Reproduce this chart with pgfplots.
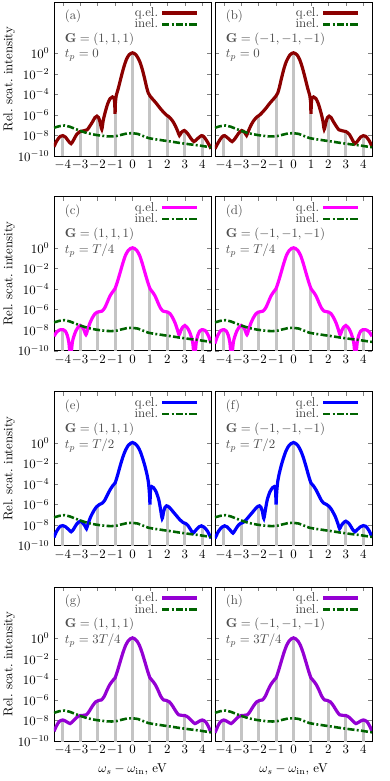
\documentclass[border=0pt]{standalone}
\usepackage{pgfplots}
\usepackage{pgfplotstable}
\pgfplotsset{compat=1.18}
\definecolor{qa}{HTML}{8B0000}
\definecolor{qc}{HTML}{FF00FF}
\definecolor{qe}{HTML}{0000FF}
\definecolor{qg}{HTML}{9400D3}
\definecolor{inelc}{HTML}{006400}
\definecolor{barc}{HTML}{C4C4C4}

% log10 of the relative scattering intensity
\pgfplotstableread{
x y
-4.5 -9.1
-4.35 -8.55
-4.15 -8.1
-4.0 -8.02
-3.85 -8.15
-3.67 -8.55
-3.52 -8.8
-3.38 -8.45
-3.2 -7.9
-3.0 -7.62
-2.8 -7.55
-2.6 -7.45
-2.45 -7.1
-2.3 -6.7
-2.15 -6.25
-2.04 -6.12
-1.95 -6.25
-1.86 -6.7
-1.76 -7.4
-1.68 -6.55
-1.56 -5.7
-1.42 -4.9
-1.28 -4.4
-1.15 -4.25
-1.06 -4.35
-1.02 -4.9
-1.0 -5.9
-0.98 -4.8
-0.93 -4.1
-0.82 -3.45
-0.65 -2.3
-0.5 -1.35
-0.35 -0.6
-0.2 -0.15
0 0.05
0.2 -0.15
0.4 -0.75
0.55 -1.5
0.7 -2.5
0.8 -3.25
0.9 -3.85
1.0 -4.15
1.12 -4.4
1.25 -4.65
1.4 -4.95
1.58 -5.35
1.76 -5.7
1.93 -6.0
2.1 -6.2
2.3 -6.6
2.45 -7.05
2.58 -7.55
2.69 -8.0
2.8 -7.7
2.97 -7.52
3.15 -7.8
3.35 -8.3
3.52 -8.6
3.7 -8.35
3.95 -8.02
4.1 -8.15
4.3 -8.65
4.5 -9.3
}\tabA

\pgfplotstableread{
x y
-4.5 -8.6
-4.35 -8.2
-4.17 -7.98
-3.97 -7.96
-3.85 -8.1
-3.74 -8.5
-3.65 -9.2
-3.58 -10.5
-3.55 -11.5
-3.52 -10.5
-3.45 -9.2
-3.36 -8.6
-3.25 -8.1
-3.12 -7.72
-3.0 -7.55
-2.88 -7.7
-2.78 -8.0
-2.67 -8.45
-2.57 -7.95
-2.45 -7.35
-2.3 -6.8
-2.15 -6.4
-2.02 -6.25
-1.88 -6.2
-1.75 -6.15
-1.6 -5.85
-1.45 -5.3
-1.3 -4.7
-1.15 -4.3
-1.0 -3.95
-0.85 -3.2
-0.72 -2.45
-0.55 -1.45
-0.4 -0.7
-0.25 -0.25
-0.12 -0.05
0 0.02
0.12 -0.05
0.25 -0.25
0.4 -0.7
0.55 -1.45
0.72 -2.45
0.85 -3.2
1.0 -3.95
1.15 -4.3
1.3 -4.7
1.45 -5.3
1.6 -5.85
1.75 -6.15
1.88 -6.2
2.02 -6.25
2.15 -6.4
2.3 -6.8
2.45 -7.35
2.57 -7.95
2.67 -8.45
2.78 -8.0
2.88 -7.7
3.0 -7.55
3.12 -7.72
3.25 -8.1
3.36 -8.6
3.45 -9.2
3.52 -10.5
3.55 -11.5
3.58 -10.5
3.65 -9.2
3.74 -8.5
3.85 -8.1
3.97 -7.96
4.17 -8.05
4.35 -8.55
4.5 -9.3
}\tabC

\pgfplotstableread{
x y
-4.5 -9.2
-4.35 -8.6
-4.15 -8.12
-4.0 -8.05
-3.85 -8.15
-3.65 -8.45
-3.52 -8.65
-3.38 -8.4
-3.2 -7.9
-3.0 -7.62
-2.85 -7.8
-2.72 -8.1
-2.64 -8.35
-2.55 -7.9
-2.4 -7.2
-2.2 -6.55
-2.05 -6.2
-1.9 -6.0
-1.75 -5.88
-1.6 -5.6
-1.45 -5.1
-1.3 -4.6
-1.15 -4.2
-1.0 -3.9
-0.85 -3.1
-0.72 -2.3
-0.55 -1.35
-0.4 -0.7
-0.25 -0.25
-0.12 -0.04
0 0.05
0.15 -0.07
0.3 -0.35
0.45 -0.85
0.6 -1.6
0.72 -2.3
0.82 -3.0
0.9 -3.7
0.95 -4.5
0.985 -5.4
1.0 -6.0
1.02 -4.9
1.05 -4.35
1.1 -4.25
1.2 -4.35
1.35 -4.75
1.5 -5.5
1.6 -6.4
1.7 -7.35
1.78 -6.7
1.87 -6.25
1.95 -6.12
2.1 -6.25
2.3 -6.65
2.5 -7.05
2.7 -7.45
2.9 -7.75
3.05 -7.85
3.2 -8.1
3.35 -8.5
3.47 -8.78
3.6 -8.55
3.8 -8.18
3.95 -8.07
4.1 -8.2
4.3 -8.6
4.5 -9.3
}\tabE

\pgfplotstableread{
x y
-4.5 -9.05
-4.35 -8.5
-4.2 -8.1
-4.0 -7.95
-3.8 -8.1
-3.58 -8.3
-3.4 -8.05
-3.2 -7.7
-3.0 -7.52
-2.82 -7.5
-2.65 -7.45
-2.5 -7.15
-2.3 -6.6
-2.12 -6.2
-1.95 -6.05
-1.78 -6.0
-1.62 -5.65
-1.45 -5.0
-1.3 -4.5
-1.15 -4.15
-1.0 -3.85
-0.85 -3.1
-0.72 -2.35
-0.55 -1.4
-0.4 -0.7
-0.25 -0.25
-0.12 -0.04
0 0.05
0.12 -0.04
0.25 -0.25
0.4 -0.7
0.55 -1.4
0.72 -2.35
0.85 -3.1
1.0 -3.85
1.15 -4.15
1.3 -4.5
1.45 -5.0
1.62 -5.65
1.78 -6.0
1.95 -6.05
2.12 -6.2
2.3 -6.6
2.5 -7.15
2.65 -7.45
2.82 -7.5
3.0 -7.52
3.2 -7.7
3.4 -8.05
3.58 -8.3
3.8 -8.1
4.0 -7.95
4.2 -8.15
4.35 -8.6
4.5 -9.2
}\tabG

\pgfplotstableread{
x y
-4.5 -7.25
-4.2 -7.1
-3.9 -7.03
-3.6 -7.15
-3.3 -7.35
-3.0 -7.55
-2.7 -7.72
-2.4 -7.85
-2.1 -7.95
-1.8 -8.02
-1.5 -8.08
-1.2 -8.1
-0.9 -8.05
-0.6 -7.92
-0.3 -7.8
0.0 -7.78
0.3 -7.85
0.6 -8.05
0.9 -8.25
1.2 -8.35
1.5 -8.42
1.8 -8.5
2.1 -8.57
2.4 -8.65
2.7 -8.73
3.0 -8.8
3.3 -8.87
3.6 -8.93
3.9 -9.0
4.2 -9.08
4.5 -9.15
}\tabI

\newcommand{\bars}[9]{\addplot[bars] coordinates {(-4,-11) (-4,#1) (-4,nan)
 (-3,-11) (-3,#2) (-3,nan) (-2,-11) (-2,#3) (-2,nan) (-1,-11) (-1,#4) (-1,nan)
 (0,-11) (0,#5) (0,nan) (1,-11) (1,#6) (1,nan) (2,-11) (2,#7) (2,nan)
 (3,-11) (3,#8) (3,nan) (4,-11) (4,#9)};}

\pgfplotsset{
 panel/.style={
  scale only axis, width=122.5pt, height=120.1pt, anchor=north west,
  xmin=-4.5, xmax=4.5, ymin=-10, ymax=5,
  xtick={-4,-3,...,4}, ytick={-10,-8,-6,-4,-2,0},
  yticklabels={$10^{-10}$,$10^{-8}$,$10^{-6}$,$10^{-4}$,$10^{-2}$,$10^{0}$},
  major tick length=3pt,
  unbounded coords=jump,
  legend plot pos=right,
  legend cell align=right,
  legend style={draw=none, fill=none, at={(rel axis cs:0.93,0.99)}, anchor=north east,
     text=black!75, row sep=-3.5pt, inner sep=1pt},
  legend image code/.code={\draw[##1] (0pt,0pt) -- (27pt,0pt);},
  every axis y label/.style={at={(rel axis cs:-0.22,0.5)}, rotate=90, anchor=south},
 },
 left/.style={ylabel={Rel.\ scat.\ intensity}},
 right/.style={yticklabels={}},
 bottom/.style={xlabel={$\omega_s-\omega_{\mathrm{in}}$, eV}},
 qel/.style={line width=2.5pt, smooth, tension=0.45},
 inel/.style={inelc, line width=2pt, dash pattern=on 5.5pt off 1.8pt on 1.5pt off 1.8pt},
 bars/.style={barc, line width=2.3pt, forget plot},
}
\newcommand{\annot}[3]{%
 \node[anchor=west, text=black!70] at (rel axis cs:0.04,0.905) {#1};
 \node[anchor=west, text=black!70] at (rel axis cs:0.04,0.755) {$\mathbf{G}=#2$};
 \node[anchor=west, text=black!70] at (rel axis cs:0.04,0.652) {$t_p=#3$};}

\begin{document}
\begin{tikzpicture}
\path[use as bounding box] (0pt,0pt) rectangle (304.2pt,-609.2pt);
% row 1
\begin{axis}[panel, left, at={(42.12pt,-1.56pt)}]
\bars{-8.05}{-7.62}{-6.15}{-5.9}{0.05}{-4.15}{-6.05}{-7.55}{-8.1}
\addplot[qel, qa] table[x=x,y=y] {\tabA}; \addlegendentry{q.el.}
\addplot[inel] table[x=x,y=y] {\tabI}; \addlegendentry{inel.}
\annot{(a)}{(1,1,1)}{0}
\end{axis}
\begin{axis}[panel, right, at={(167.7pt,-1.56pt)}]
\bars{-8.1}{-7.55}{-6.05}{-4.15}{0.05}{-5.9}{-6.15}{-7.62}{-8.05}
\addplot[qel, qa] table[x expr=-\thisrow{x},y=y] {\tabA}; \addlegendentry{q.el.}
\addplot[inel] table[x=x,y=y] {\tabI}; \addlegendentry{inel.}
\annot{(b)}{(-1,-1,-1)}{0}
\end{axis}
% row 2
\begin{axis}[panel, left, at={(42.12pt,-153.4pt)}]
\bars{-7.96}{-7.55}{-6.25}{-3.95}{0}{-3.95}{-6.25}{-7.55}{-7.96}
\addplot[qel, qc] table[x=x,y=y] {\tabC}; \addlegendentry{q.el.}
\addplot[inel] table[x=x,y=y] {\tabI}; \addlegendentry{inel.}
\annot{(c)}{(1,1,1)}{T/4}
\end{axis}
\begin{axis}[panel, right, at={(167.7pt,-153.4pt)}]
\bars{-7.96}{-7.55}{-6.25}{-3.95}{0}{-3.95}{-6.25}{-7.55}{-7.96}
\addplot[qel, qc] table[x expr=-\thisrow{x},y=y] {\tabC}; \addlegendentry{q.el.}
\addplot[inel] table[x=x,y=y] {\tabI}; \addlegendentry{inel.}
\annot{(d)}{(-1,-1,-1)}{T/4}
\end{axis}
% row 3
\begin{axis}[panel, left, at={(42.12pt,-305.5pt)}]
\bars{-8.05}{-7.62}{-6.2}{-3.9}{0.05}{-6.0}{-6.2}{-7.8}{-8.07}
\addplot[qel, qe] table[x=x,y=y] {\tabE}; \addlegendentry{q.el.}
\addplot[inel] table[x=x,y=y] {\tabI}; \addlegendentry{inel.}
\annot{(e)}{(1,1,1)}{T/2}
\end{axis}
\begin{axis}[panel, right, at={(167.7pt,-305.5pt)}]
\bars{-8.07}{-7.8}{-6.2}{-6.0}{0.05}{-3.9}{-6.2}{-7.62}{-8.05}
\addplot[qel, qe] table[x expr=-\thisrow{x},y=y] {\tabE}; \addlegendentry{q.el.}
\addplot[inel] table[x=x,y=y] {\tabI}; \addlegendentry{inel.}
\annot{(f)}{(-1,-1,-1)}{T/2}
\end{axis}
% row 4
\begin{axis}[panel, left, bottom, at={(42.12pt,-457.9pt)}]
\bars{-7.95}{-7.52}{-6.1}{-3.85}{0.05}{-3.85}{-6.1}{-7.52}{-7.95}
\addplot[qel, qg] table[x=x,y=y] {\tabG}; \addlegendentry{q.el.}
\addplot[inel] table[x=x,y=y] {\tabI}; \addlegendentry{inel.}
\annot{(g)}{(1,1,1)}{3T/4}
\end{axis}
\begin{axis}[panel, right, bottom, at={(167.7pt,-457.9pt)}]
\bars{-7.95}{-7.52}{-6.1}{-3.85}{0.05}{-3.85}{-6.1}{-7.52}{-7.95}
\addplot[qel, qg] table[x expr=-\thisrow{x},y=y] {\tabG}; \addlegendentry{q.el.}
\addplot[inel] table[x=x,y=y] {\tabI}; \addlegendentry{inel.}
\annot{(h)}{(-1,-1,-1)}{3T/4}
\end{axis}
\end{tikzpicture}
\end{document}
